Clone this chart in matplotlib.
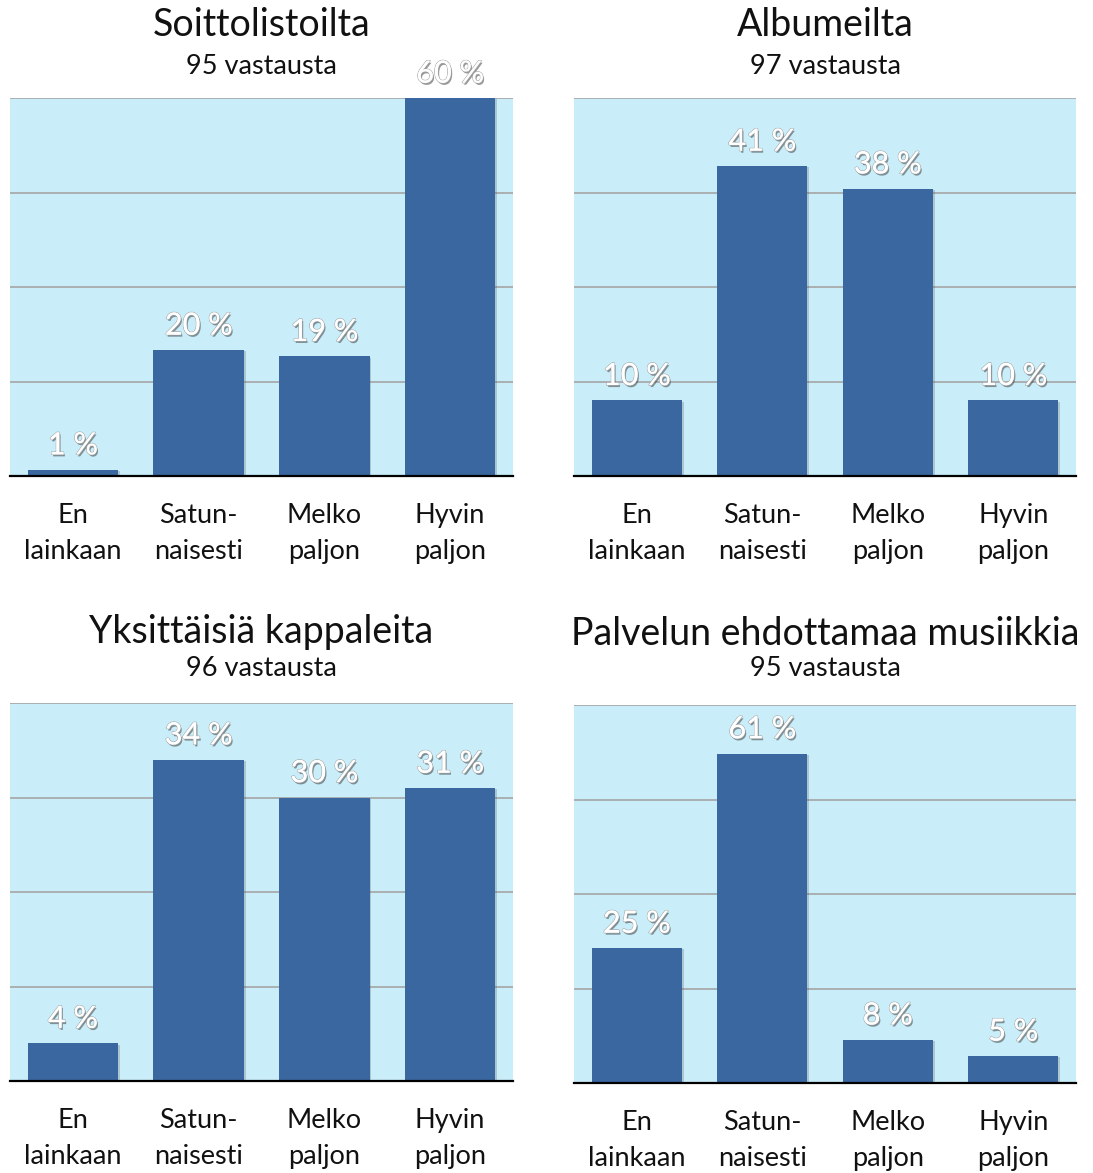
import matplotlib
matplotlib.use("Agg")
import matplotlib.pyplot as plt
import matplotlib.patheffects as pe

plt.rcParams['font.family'] = ['Lato', 'DejaVu Sans']

categories = ["En\nlainkaan", "Satun-\nnaisesti", "Melko\npaljon", "Hyvin\npaljon"]

titles = ["Soittolistoilta", "Albumeilta", "Yksittäisiä kappaleita", "Palvelun ehdottamaa musiikkia"]
responses = ["95 vastausta", "97 vastausta", "96 vastausta", "95 vastausta"]

soittolistoilta = [1, 20, 19, 60]
albumeilta = [10, 41, 38, 10]
kappaleita = [4, 34, 30, 31]
ehdotukset = [25, 61, 8, 5]
series = [soittolistoilta, albumeilta, kappaleita, ehdotukset]
axis_max = [60, 50, 40, 70]

W, H = 1093, 1173
fig = plt.figure(figsize=(W / 100, H / 100), dpi=100)

# panel boxes in pixels: left, top, right, bottom (baseline)
boxes = [(10, 98, 513, 476), (574, 98, 1076, 476),
         (10, 703, 513, 1081), (574, 705, 1076, 1083)]
title_y = [(25, 66), (25, 66), (632, 669), (634, 669)]

bg = "#c9edf9"
bar_color = "#3a679f"

label_fx = [pe.withSimplePatchShadow(offset=(1, -1.5), shadow_rgbFace="#333333", alpha=0.5),
            pe.withStroke(linewidth=1.0, foreground="#a8a8a8"),
            pe.Normal()]
bar_fx = [pe.SimplePatchShadow(offset=(1.2, -1.0), shadow_rgbFace="#555555", alpha=0.25), pe.Normal()]

for i, (l, t, r, b) in enumerate(boxes):
    ax = fig.add_axes([l / W, 1 - b / H, (r - l) / W, (b - t) / H])
    ax.set_facecolor(bg)
    vals = series[i]
    ymax = axis_max[i]
    ax.set_xlim(-0.5, 3.5)
    ax.set_ylim(0, ymax)
    for k in range(1, 5):
        ax.axhline(ymax * k / 4, color="#a5a5a5", lw=1.2, zorder=1)
    ax.bar(range(4), vals, width=0.72, color=bar_color, zorder=2, path_effects=bar_fx)
    ax.axhline(0, color="black", lw=1.6, zorder=3, clip_on=False)
    for x, v in enumerate(vals):
        ax.annotate(f"{v} %", (x, v), xytext=(0, 7.5), textcoords="offset points",
                    ha="center", va="bottom", fontsize=22, color="white",
                    path_effects=label_fx, zorder=4, annotation_clip=False)
    ax.set_xticks(range(4))
    ax.set_xticklabels(categories, fontsize=19.5, linespacing=1.55, color="#111111")
    ax.tick_params(axis="x", length=0, pad=19.5)
    ax.set_yticks([])
    for s in ax.spines.values():
        s.set_visible(False)
    cx = (l + r) / 2 / W
    fig.text(cx, 1 - title_y[i][0] / H, titles[i], ha="center", va="center", fontsize=27, color="#111111")
    fig.text(cx, 1 - title_y[i][1] / H, responses[i], ha="center", va="center", fontsize=19.5, color="#111111")

fig.savefig("out.png", dpi=100, facecolor="white")
